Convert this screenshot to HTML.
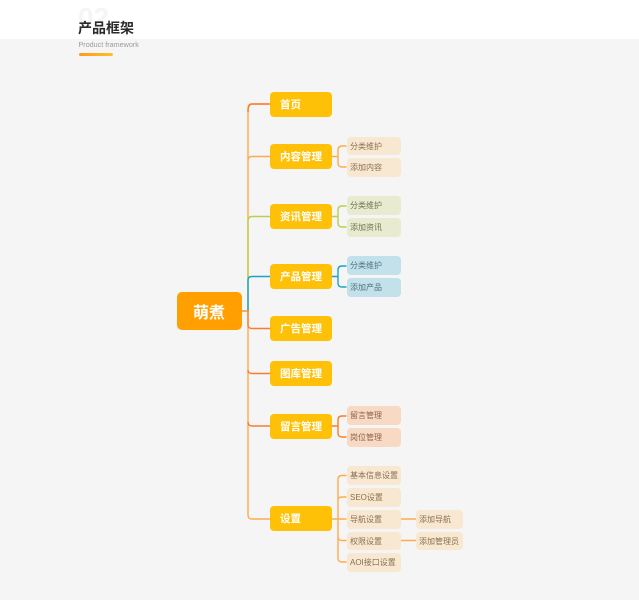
<!DOCTYPE html>
<html>
<head>
<meta charset="utf-8">
<style>
html,body{margin:0;padding:0}
body{width:639px;height:600px;position:relative;overflow:hidden;background:#f5f5f5;font-family:"Liberation Sans","Noto Sans CJK SC",sans-serif}
.abs{position:absolute}
.n{position:absolute;left:270px;width:61.5px;height:25px;line-height:27.5px;background:#ffc107;border-radius:4px;color:#fff;font-size:10.5px;font-weight:700;box-sizing:border-box;padding-left:10px;white-space:nowrap}
.s{position:absolute;left:346.5px;width:54.5px;height:18.5px;line-height:19px;border-radius:4px;font-size:8px;box-sizing:border-box;padding-left:3.5px;white-space:nowrap}
.o{background:#f8e8d2;color:#8a6f4c}
.g{background:#e8ebcf;color:#6f7350}
.b{background:#c3e1ea;color:#4f7480}
.r{background:#f7d9c4;color:#8f6345}
.t{left:416px;width:46.5px;padding-left:3px}
svg{position:absolute;left:0;top:0}
</style>
</head>
<body>
<div class="abs" style="left:0;top:0;width:639px;height:39px;background:#fff"></div>
<div class="abs" style="left:78px;top:0px;font-size:28px;font-weight:700;color:#f5f5f5;line-height:36px">02</div>
<div class="abs" style="left:78px;top:18px;font-size:14px;font-weight:700;color:#2b2b2b;line-height:20px;white-space:nowrap">产品框架</div>
<div class="abs" style="left:78.5px;top:38.5px;font-size:7.2px;color:#9a9a9a;line-height:12px;white-space:nowrap">Product framework</div>
<div class="abs" style="left:78.5px;top:53px;width:34.5px;height:3px;border-radius:2px;background:linear-gradient(90deg,#fb9a1c,#ffc02e)"></div>

<svg width="639" height="600" fill="none" stroke-width="1.4">
<path d="M241 311H248V108Q248 104 252 104H270" stroke="#ffab4d"/>
<path d="M248 112Q248 104 252 104H270" stroke="#fb7d2c"/>
<path d="M248 160Q248 156.500 252 156.500H270" stroke="#ffab4d"/>
<path d="M248 311V221Q248 216.500 252 216.500H270" stroke="#b9cf4e"/>
<path d="M248 311V280Q248 276.500 252 276.500H270" stroke="#1ba3c4"/>
<path d="M241 311H248" stroke="#fb9a3c"/>
<path d="M248 311V515Q248 519 252 519H270" stroke="#ffab4d"/>
<path d="M248 311V325Q248 328.500 252 328.500H270" stroke="#fb7d2c"/>
<path d="M248 370Q248 373.500 252 373.500H270" stroke="#fb7d2c"/>
<path d="M248 422Q248 426 252 426H270" stroke="#fb7d2c"/>

<path d="M331 156.500H338M346.500 146H342Q338 146 338 150V163Q338 167 342 167H346.500" stroke="#ffab4d"/>
<path d="M331 216.500H338M346.500 206H342Q338 206 338 210V223Q338 227 342 227H346.500" stroke="#b9cf4e"/>
<path d="M331 276.500H338M346.500 266H342Q338 266 338 270V283Q338 287 342 287H346.500" stroke="#1ba3c4"/>
<path d="M331 426H338M346.500 416H342Q338 416 338 420V433Q338 437 342 437H346.500" stroke="#fb7d2c"/>
<path d="M331 519H346.500M346.500 475.500H342Q338 475.500 338 479.500V558Q338 562 342 562H346.500M338 500Q338 497 342 497H346.500M338 536.500Q338 540.500 342 540.500H346.500" stroke="#ffab4d"/>
<path d="M401 519H416M401 540.500H416" stroke="#ffab4d"/>
</svg>

<div class="abs" style="left:176.500px;top:292px;width:65px;height:38px;line-height:43px;background:#ffa000;border-radius:5px;color:#fff;font-size:16px;font-weight:700;text-align:center">萌煮</div>

<div class="n" style="top:91.500px">首页</div>
<div class="n" style="top:144px">内容管理</div>
<div class="n" style="top:204px">资讯管理</div>
<div class="n" style="top:264px">产品管理</div>
<div class="n" style="top:316px">广告管理</div>
<div class="n" style="top:361px">图库管理</div>
<div class="n" style="top:413.500px">留言管理</div>
<div class="n" style="top:506px">设置</div>

<div class="s o" style="top:136.500px">分类维护</div>
<div class="s o" style="top:158px">添加内容</div>
<div class="s g" style="top:196px">分类维护</div>
<div class="s g" style="top:218px">添加资讯</div>
<div class="s b" style="top:256px">分类维护</div>
<div class="s b" style="top:278px">添加产品</div>
<div class="s r" style="top:406px">留言管理</div>
<div class="s r" style="top:428px">岗位管理</div>
<div class="s o" style="top:466px">基本信息设置</div>
<div class="s o" style="top:488px">SEO设置</div>
<div class="s o" style="top:510px">导航设置</div>
<div class="s o" style="top:531.500px">权限设置</div>
<div class="s o" style="top:553px">AOI接口设置</div>
<div class="s o t" style="top:510px">添加导航</div>
<div class="s o t" style="top:531.500px">添加管理员</div>
</body>
</html>
